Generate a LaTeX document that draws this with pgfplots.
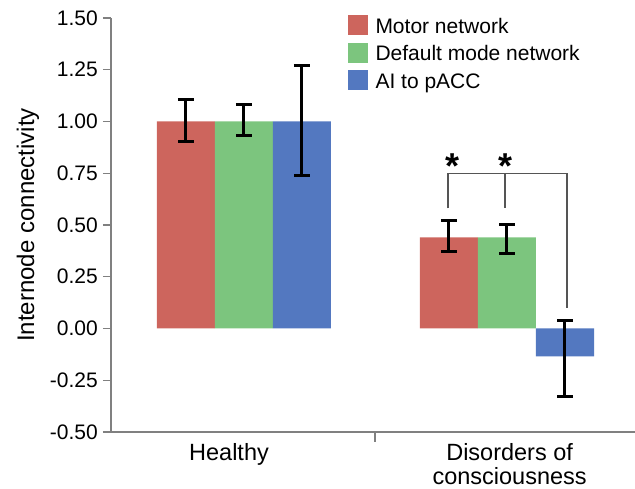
\documentclass[border=0pt]{standalone}
\usepackage{pgfplots}
\pgfplotsset{compat=1.18}
\usepackage{fontspec}
\setmainfont{Liberation Sans}
\definecolor{cred}{RGB}{205,101,93}
\definecolor{cgreen}{RGB}{124,197,126}
\definecolor{cblue}{RGB}{83,120,192}
\definecolor{axgray}{RGB}{128,128,128}
\definecolor{brgray}{RGB}{85,85,85}
\begin{document}
\begin{tikzpicture}
\useasboundingbox (-111pt,-57pt) rectangle (524pt,432pt);
\begin{axis}[
  at={(0pt,0pt)}, anchor=south west,
  width=524pt, height=414pt, scale only axis,
  xmin=-0.5057, xmax=1.4867,
  ymin=-0.5, ymax=1.5,
  clip=false,
  axis x line*=bottom, axis y line*=left,
  axis line style={axgray, line width=1.2pt},
  ytick={-0.5,-0.25,0,0.25,0.5,0.75,1,1.25,1.5},
  /pgf/number format/assume math mode=true,
  yticklabel style={/pgf/number format/.cd, fixed, fixed zerofill, precision=2, /tikz/.cd,
     font=\fontsize{21}{25}\selectfont, inner sep=0pt, xshift=-5pt},
  tick align=outside, major tick length=8pt,
  ytick style={axgray, line width=1.2pt},
  xtick={-0.057,1.01},
  xticklabels={Healthy,{Disorders of\\consciousness}},
  xtick style={draw=none},
  xticklabel style={align=center, font=\fontsize{23.5}{24}\selectfont, inner sep=0pt, yshift=-3pt},
  extra x ticks={0.498}, extra x tick labels={},
  extra x tick style={xtick style={draw=axgray, line width=1.2pt}, major tick length=10pt},
  ylabel={Internode connectivity},
  ylabel style={at={(axis description cs:-0.1584,0.5)}, anchor=center, inner sep=0pt,
     font=\fontsize{24}{28}\selectfont},
  ybar=0pt, bar width=58pt,
  error bars/y dir=both, error bars/y explicit,
  error bars/error bar style={black, line width=3pt},
  error bars/error mark options={black, line width=3pt, mark size=8pt, rotate=90},
  legend style={at={(axis description cs:0.4523,1.0072)}, anchor=north west,
     draw=none, fill=none, inner sep=0pt, outer sep=0pt,
     font=\fontsize{21}{25}\selectfont, row sep=4.5pt,
     nodes={inner sep=0pt, text height=17pt, text depth=5pt}},
  legend cell align=left,
  legend image code/.code={\fill[#1, draw=none] (0pt,-8pt) rectangle (20pt,12pt); \path (27.5pt,0pt);},
]
\addplot[fill=cred, draw=none] coordinates {(0,1.0) += (0,0.105) -= (0,0.097) (1,0.44) += (0,0.08) -= (0,0.068)};
\addplot[fill=cgreen, draw=none] coordinates {(0,1.0) += (0,0.08) -= (0,0.07) (1,0.44) += (0,0.062) -= (0,0.078)};
\addplot[fill=cblue, draw=none] coordinates {(0,1.0) += (0,0.27) -= (0,0.26) (1,-0.135) += (0,0.174) -= (0,0.193)};
\legend{Motor network, Default mode network, AI to pACC}
\draw[brgray, line width=1.5pt] (axis cs:0.7757,0.58) -- (axis cs:0.7757,0.749) -- (axis cs:1.228,0.749) -- (axis cs:1.228,0.097);
\draw[brgray, line width=1.5pt] (axis cs:0.9924,0.749) -- (axis cs:0.9924,0.58);
\node[anchor=north, inner sep=0pt, font=\fontsize{36}{36}\selectfont\bfseries] at (axis cs:0.791,0.845) {*};
\node[anchor=north, inner sep=0pt, font=\fontsize{36}{36}\selectfont\bfseries] at (axis cs:0.996,0.845) {*};
\end{axis}
\end{tikzpicture}
\end{document}
